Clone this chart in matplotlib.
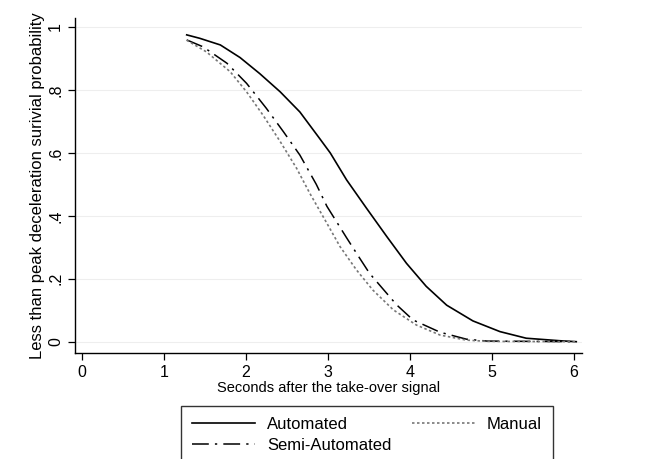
import matplotlib
matplotlib.use("Agg")
import matplotlib.pyplot as plt

plt.rcParams["font.family"] = ["Liberation Sans", "DejaVu Sans"]

# survival curves
auto_x = [1.28, 1.44, 1.69, 1.93, 2.17, 2.42, 2.66, 2.90, 3.03, 3.23, 3.47, 3.72, 3.96, 4.20,
          4.45, 4.77, 5.10, 5.42, 5.83, 6.03]
auto_y = [0.975, 0.964, 0.943, 0.903, 0.852, 0.794, 0.730, 0.646, 0.600, 0.514, 0.425, 0.334,
          0.249, 0.176, 0.116, 0.066, 0.032, 0.011, 0.003, 0.0]

semi_x = [1.28, 1.48, 1.77, 2.01, 2.25, 2.46, 2.66, 2.86, 2.99, 3.23, 3.39, 3.51, 3.84, 4.04,
          4.37, 4.69, 4.94, 6.03]
semi_y = [0.959, 0.937, 0.885, 0.821, 0.742, 0.667, 0.593, 0.500, 0.430, 0.330, 0.265, 0.217,
          0.117, 0.069, 0.030, 0.008, 0.002, 0.0]

man_x = [1.28, 1.52, 1.81, 2.01, 2.21, 2.42, 2.62, 2.78, 2.99, 3.15, 3.35, 3.55, 3.80, 4.08,
         4.37, 4.69, 4.95, 6.03]
man_y = [0.958, 0.921, 0.858, 0.794, 0.720, 0.636, 0.551, 0.472, 0.376, 0.302, 0.228, 0.164,
         0.101, 0.053, 0.021, 0.005, 0.001, 0.0]

xticks = [0, 1, 2, 3, 4, 5, 6]
yticks = [0, 0.2, 0.4, 0.6, 0.8, 1]
ylabels = ["0", ".2", ".4", ".6", ".8", "1"]

fig = plt.figure(figsize=(6.54, 4.59), dpi=100)
ax = fig.add_axes([75 / 654, 106.3 / 459, 507 / 654, (352.7 - 18) / 459])

for t in yticks:
    ax.axhline(t, color="#eeeeee", lw=0.8, zorder=0)

ax.plot(auto_x, auto_y, color="black", lw=1.2, label="Automated")
ax.plot(semi_x, semi_y, color="black", lw=1.1, dashes=(11, 4, 1.5, 4), label="Semi-Automated")
ax.plot(man_x, man_y, color="#777777", lw=1.2, dashes=(1.5, 1.5), label="Manual")

ax.set_xlim(-0.082, 6.1)
ax.set_ylim(-0.035, 1.0286)
ax.set_xticks(xticks)
ax.set_yticks(yticks)
ax.set_yticklabels(ylabels, rotation=90, va="center")
ax.tick_params(direction="out", length=5, width=0.9, labelsize=11.5, color="black")
for s in ["top", "right"]:
    ax.spines[s].set_visible(False)
for s in ["left", "bottom"]:
    ax.spines[s].set_linewidth(1.0)

ax.set_xlabel("Seconds after the take-over signal", fontsize=10.5, labelpad=1)
ax.set_ylabel("Less than peak deceleration surivial probability", fontsize=12, labelpad=2)

handles, labels = ax.get_legend_handles_labels()
leg = fig.legend(handles, labels, ncol=2, loc="upper left",
                 bbox_to_anchor=(181 / 654, 1 - 406 / 459), borderaxespad=0,
                 fontsize=12, frameon=True, fancybox=False, edgecolor="black",
                 handlelength=3.8, columnspacing=1.2, handletextpad=0.72,
                 borderpad=0.65, labelspacing=0.35)
leg.get_frame().set_linewidth(1.0)

fig.savefig("out.png", dpi=100)
